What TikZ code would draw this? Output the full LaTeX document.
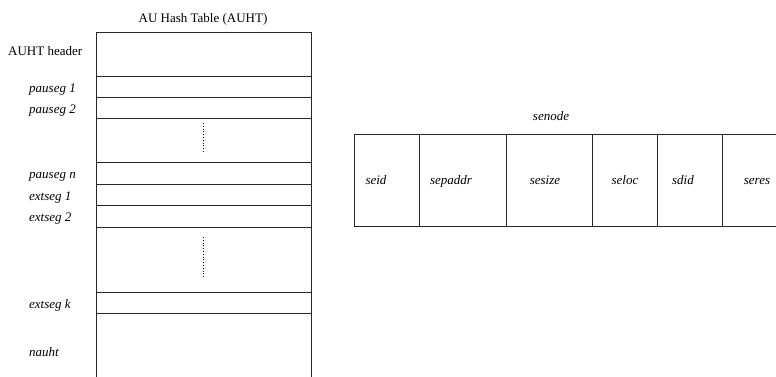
\documentclass[tikz,border=0pt]{standalone}
\usepackage{fontspec}
\setmainfont{Liberation Serif}
\begin{document}
\begin{tikzpicture}[x=1pt,y=-1pt,
  cell/.style={draw=black!85, line width=0.8pt, anchor=north west, inner sep=0pt, outer sep=0pt},
  lbl/.style={font=\fontsize{13}{15}\selectfont\itshape, anchor=base west, inner sep=0pt},
  clbl/.style={font=\fontsize{13}{15}\selectfont\itshape, anchor=base, inner sep=0pt},
  ttl/.style={font=\fontsize{13}{15}\selectfont, inner sep=0pt},
  dots/.style={dotted, line width=0.8pt}]
\useasboundingbox (0,0) rectangle (776,376);
% title
\node[ttl, anchor=base] (title) at (203,22) {AU Hash Table (AUHT)};
% table rows
\node[cell, minimum width=215pt, minimum height=44pt] (hdr) at (96,32) {};
\node[cell, minimum width=215pt, minimum height=21pt] (p1) at (96,76) {};
\node[cell, minimum width=215pt, minimum height=21pt] (p2) at (96,97) {};
\node[cell, minimum width=215pt, minimum height=44pt] (pgap) at (96,118) {};
\node[cell, minimum width=215pt, minimum height=22pt] (pn) at (96,162) {};
\node[cell, minimum width=215pt, minimum height=21pt] (e1) at (96,184) {};
\node[cell, minimum width=215pt, minimum height=22pt] (e2) at (96,205) {};
\node[cell, minimum width=215pt, minimum height=65pt] (egap) at (96,227) {};
\node[cell, minimum width=215pt, minimum height=21pt] (ek) at (96,292) {};
\node[cell, minimum width=215pt, minimum height=70pt] (na) at (96,313) {};
% dotted gaps
\coordinate (d1a) at (203,123); \coordinate (d1b) at (203,152);
\coordinate (d2a) at (203,237); \coordinate (d2b) at (203,278);
\draw[dots] (d1a) -- (d1b);
\draw[dots] (d2a) -- (d2b);
% left labels
\node[ttl, anchor=base west] (lhdr) at (8,55) {AUHT header};
\node[lbl] (lp1) at (29,92) {pauseg 1};
\node[lbl] (lp2) at (29,113) {pauseg 2};
\node[lbl] (lpn) at (29,178) {pauseg n};
\node[lbl] (le1) at (29,200) {extseg 1};
\node[lbl] (le2) at (29,221) {extseg 2};
\node[lbl] (lek) at (29,308) {extseg k};
\node[lbl] (lna) at (29,356) {nauht};
% senode
\node[clbl] (senode) at (551,120) {senode};
\node[cell, minimum width=65pt, minimum height=92pt] (c1) at (354,134) {};
\node[cell, minimum width=87pt, minimum height=92pt] (c2) at (419,134) {};
\node[cell, minimum width=86pt, minimum height=92pt] (c3) at (506,134) {};
\node[cell, minimum width=65pt, minimum height=92pt] (c4) at (592,134) {};
\node[cell, minimum width=65pt, minimum height=92pt] (c5) at (657,134) {};
\node[cell, minimum width=80pt, minimum height=92pt] (c6) at (722,134) {};
\node[clbl] (t1) at (376,184) {seid};
\node[clbl] (t2) at (451,184) {sepaddr};
\node[clbl] (t3) at (545,184) {sesize};
\node[clbl] (t4) at (625,184) {seloc};
\node[clbl] (t5) at (683,184) {sdid};
\node[clbl] (t6) at (757,184) {seres};
\end{tikzpicture}
\end{document}
